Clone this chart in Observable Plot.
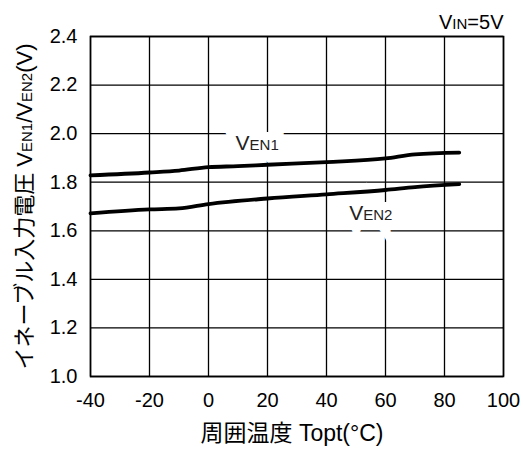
<!DOCTYPE html>
<html>
<head>
<meta charset="utf-8">
<script src="https://cdn.jsdelivr.net/npm/d3@7"></script>
<script src="https://cdn.jsdelivr.net/npm/@observablehq/plot@0.6"></script>
<style>
  html, body { margin: 0; padding: 0; background: #fff; }
</style>
</head>
<body>
<div id="chart"></div>
<script>
// Temperature (°C) and enable input voltages (V)
const temps1 = [-40, -20, -10, 0, 10, 20, 40, 60, 70, 85];
const ven1   = [1.828, 1.840, 1.848, 1.862, 1.866, 1.872, 1.883, 1.898, 1.915, 1.922];
const temps2 = [-40, -20, -10, 0, 20, 40, 60, 70, 85];
const ven2   = [1.672, 1.688, 1.692, 1.710, 1.733, 1.750, 1.768, 1.780, 1.792];

const xTicks = [-40, -20, 0, 20, 40, 60, 80, 100];
const yTicks = [1.0, 1.2, 1.4, 1.6, 1.8, 2.0, 2.2, 2.4];

const seriesLabels = [
  {x: 16.5, y: 1.962, text: "V_{EN1}"},
  {x: 55, y: 1.672, text: "V_{EN2}"}
];
const xTitle = "周囲温度 Topt(°C)";
const yTitle = "イネーブル入力電圧 V_{EN1}/V_{EN2}(V)";
const condition = "V_{IN}=5V";

const d1 = temps1.map((t, i) => ({t, v: ven1[i]}));
const d2 = temps2.map((t, i) => ({t, v: ven2[i]}));

const font = "'Liberation Sans', Arial, 'Noto Sans CJK JP', sans-serif";

const chart = Plot.plot({
  width: 523,
  height: 453,
  marginLeft: 90,
  marginRight: 20,
  marginTop: 36,
  marginBottom: 77,
  style: {fontFamily: font, background: "white", color: "black"},
  x: {domain: [-40, 100]},
  y: {domain: [1.0, 2.4]},
  marks: [
    Plot.gridX(xTicks, {stroke: "black", strokeOpacity: 1, strokeWidth: 1.3}),
    Plot.gridY(yTicks, {stroke: "black", strokeOpacity: 1, strokeWidth: 1.3}),
    Plot.frame({stroke: "black", strokeWidth: 1.6}),
    Plot.axisX(xTicks, {tickSize: 0, tickPadding: 16, fontSize: 20, tickFormat: d => String(d), label: null}),
    Plot.axisY(yTicks, {tickSize: 0, tickPadding: 13, fontSize: 20, tickFormat: d3.format(".1f"), label: null}),
    Plot.text(seriesLabels, {x: "x", y: "y", text: "text", fontSize: 21, fill: "white", stroke: "white", strokeWidth: 16, strokeLinejoin: "miter"}),
    Plot.line(d1, {x: "t", y: "v", stroke: "black", strokeWidth: 3.8, curve: "monotone-x"}),
    Plot.line(d2, {x: "t", y: "v", stroke: "black", strokeWidth: 3.8, curve: "monotone-x"}),
    Plot.text(seriesLabels, {x: "x", y: "y", text: "text", fontSize: 21, fill: "#222"}),
    Plot.text([xTitle], {frameAnchor: "bottom", dx: -5, dy: 64, fontSize: 23, fill: "black"}),
    Plot.text([yTitle], {frameAnchor: "left", textAnchor: "middle", rotate: -90, dx: -66, fontSize: 22, fill: "black"}),
    Plot.text([condition], {frameAnchor: "top-right", textAnchor: "end", lineAnchor: "bottom", dy: -8, fontSize: 20, fill: "black"})
  ]
});

// Turn "_{...}" markup into smaller-sized runs (same baseline)
d3.select(chart).selectAll("text").each(function() {
  const el = this;
  const s = el.textContent;
  if (!s.includes("_{")) return;
  const parts = s.split(/_\{([^}]*)\}/);
  el.textContent = "";
  const fs = parseFloat(el.getAttribute("font-size") || getComputedStyle(el).fontSize) || 20;
  parts.forEach((p, i) => {
    if (!p) return;
    const ts = d3.select(el).append("tspan").text(p);
    if (i % 2 === 1) ts.attr("font-size", (fs * 0.75) + "px");
  });
});

document.getElementById("chart").appendChild(chart);
</script>
</body>
</html>
